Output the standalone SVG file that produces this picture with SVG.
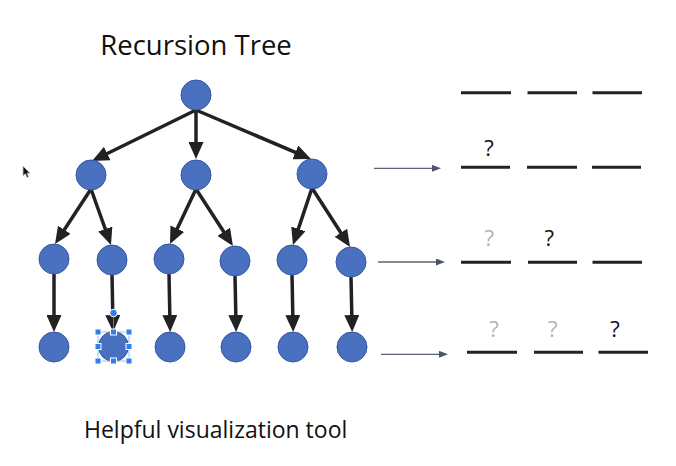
<svg xmlns="http://www.w3.org/2000/svg" width="676" height="466" viewBox="0 0 676 466">
<style>
.node{fill:#4a71c0;stroke:#3557a0;stroke-width:1}
.edge{stroke:#222;stroke-width:3.5;fill:none;marker-end:url(#ah)}
.pt{stroke:#5a6372;stroke-width:1.3;fill:none;marker-end:url(#sh)}
.slot{stroke:#222;stroke-width:3;fill:none}
.t{font-family:"Open Sans","Liberation Sans",sans-serif;fill:#111}
.q{font-family:"Open Sans","Liberation Sans",sans-serif;font-size:22px;text-anchor:middle}
.h{fill:#2f7fe6;stroke:#fff;stroke-width:1}
</style>
<defs>
<marker id="ah" markerUnits="userSpaceOnUse" viewBox="0 0 17 15" refX="9" refY="7.5" markerWidth="17" markerHeight="15" orient="auto">
<path d="M0,0 L17,7.5 L0,15 Z" fill="#222"/>
</marker>
<marker id="sh" markerUnits="userSpaceOnUse" viewBox="0 0 9 7" refX="5" refY="3.5" markerWidth="9" markerHeight="7" orient="auto">
<path d="M0,0 L9,3.5 L0,7 Z" fill="#4a5568"/>
</marker>
</defs>
<rect width="676" height="466" fill="#fff"/>
<text class="t" x="196" y="55" font-size="27.5" text-anchor="middle">Recursion Tree</text>
<g id="connectors">
<line class="edge" x1="196" y1="110" x2="99.2" y2="157.5"/>
<line class="edge" x1="196" y1="110" x2="196" y2="151"/>
<line class="edge" x1="196" y1="110" x2="303.6" y2="155.9"/>
<line class="edge" x1="91" y1="189" x2="59.4" y2="237.3"/>
<line class="edge" x1="91" y1="189" x2="108.3" y2="237.5"/>
<line class="edge" x1="196" y1="189" x2="173.4" y2="236.8"/>
<line class="edge" x1="196" y1="189" x2="228.6" y2="239.3"/>
<line class="edge" x1="312" y1="188" x2="295.5" y2="237.4"/>
<line class="edge" x1="312" y1="188" x2="345.7" y2="240.3"/>
<line class="edge" x1="54" y1="274" x2="54" y2="324"/>
<line class="edge" x1="112" y1="275" x2="113" y2="324"/>
<line class="edge" x1="169" y1="274" x2="170" y2="324"/>
<line class="edge" x1="235" y1="276" x2="236" y2="324"/>
<line class="edge" x1="292" y1="275" x2="293" y2="324"/>
<line class="edge" x1="351" y1="277" x2="352" y2="324"/>
<line class="pt" x1="374" y1="168.3" x2="437" y2="168.3"/>
<line class="pt" x1="378" y1="262" x2="441" y2="262"/>
<line class="pt" x1="381" y1="354.3" x2="444" y2="354.3"/>
</g>
<g id="n0"><circle class="node" cx="196" cy="95" r="15"/></g>
<g id="n1"><circle class="node" cx="91" cy="175" r="15"/></g>
<g id="n2"><circle class="node" cx="196" cy="175" r="15"/></g>
<g id="n3"><circle class="node" cx="312" cy="174" r="15"/></g>
<g id="n4"><circle class="node" cx="54" cy="259" r="15"/></g>
<g id="n5"><circle class="node" cx="112" cy="260" r="15"/></g>
<g id="n6"><circle class="node" cx="169" cy="259" r="15"/></g>
<g id="n7"><circle class="node" cx="235" cy="261" r="15"/></g>
<g id="n8"><circle class="node" cx="292" cy="260" r="15"/></g>
<g id="n9"><circle class="node" cx="351" cy="262" r="15"/></g>
<g id="n10"><circle class="node" cx="54" cy="347" r="15"/></g>
<g id="n11">
<circle class="node" cx="113.5" cy="346.5" r="15"/>
<rect x="98" y="332" width="31" height="29" fill="none" stroke="#7fb0f0" stroke-width="0.8"/>
<line x1="113.5" y1="313" x2="113.5" y2="332" stroke="#2f7fe6" stroke-width="1"/>
<circle cx="113.5" cy="313" r="3.8" fill="#2f7fe6" stroke="#fff" stroke-width="1"/>
<rect class="h" x="95" y="329" width="6" height="6"/>
<rect class="h" x="110.5" y="329" width="6" height="6"/>
<rect class="h" x="126" y="329" width="6" height="6"/>
<rect class="h" x="95" y="343.5" width="6" height="6"/>
<rect class="h" x="126" y="343.5" width="6" height="6"/>
<rect class="h" x="95" y="358" width="6" height="6"/>
<rect class="h" x="110.5" y="358" width="6" height="6"/>
<rect class="h" x="126" y="358" width="6" height="6"/>
</g>
<g id="n12"><circle class="node" cx="170" cy="347" r="15"/></g>
<g id="n13"><circle class="node" cx="236" cy="347" r="15"/></g>
<g id="n14"><circle class="node" cx="293" cy="347" r="15"/></g>
<g id="n15"><circle class="node" cx="352" cy="347" r="15"/></g>
<g id="row1">
<line class="slot" x1="461" y1="92.7" x2="511" y2="92.7"/>
<line class="slot" x1="527.5" y1="92.7" x2="577" y2="92.7"/>
<line class="slot" x1="592.5" y1="92.7" x2="642" y2="92.7"/>
</g>
<g id="row2">
<line class="slot" x1="461" y1="167.3" x2="510" y2="167.3"/>
<line class="slot" x1="527" y1="167.3" x2="577" y2="167.3"/>
<line class="slot" x1="592" y1="167.3" x2="641" y2="167.3"/>
<text class="q" x="489" y="156" fill="#111">?</text>
</g>
<g id="row3">
<line class="slot" x1="461" y1="262.3" x2="511" y2="262.3"/>
<line class="slot" x1="528" y1="262.3" x2="577" y2="262.3"/>
<line class="slot" x1="592.5" y1="262.3" x2="642" y2="262.3"/>
<text class="q" x="489.3" y="246" fill="#b3b3b3">?</text>
<text class="q" x="549.3" y="246" fill="#111">?</text>
</g>
<g id="row4">
<line class="slot" x1="467" y1="352.3" x2="517" y2="352.3"/>
<line class="slot" x1="534" y1="352.3" x2="583" y2="352.3"/>
<line class="slot" x1="598.5" y1="352.3" x2="648" y2="352.3"/>
<text class="q" x="494" y="337" fill="#b3b3b3">?</text>
<text class="q" x="552.7" y="337" fill="#b3b3b3">?</text>
<text class="q" x="615" y="337" fill="#111">?</text>
</g>
<path d="M23,166 L23,176 L25.3,173.8 L27,177.5 L28.6,176.8 L27,173.2 L30,173.2 Z" fill="#111" stroke="#ccc" stroke-width="0.8"/>
<text class="t" x="84" y="438" font-size="23">Helpful visualization tool</text>
</svg>
